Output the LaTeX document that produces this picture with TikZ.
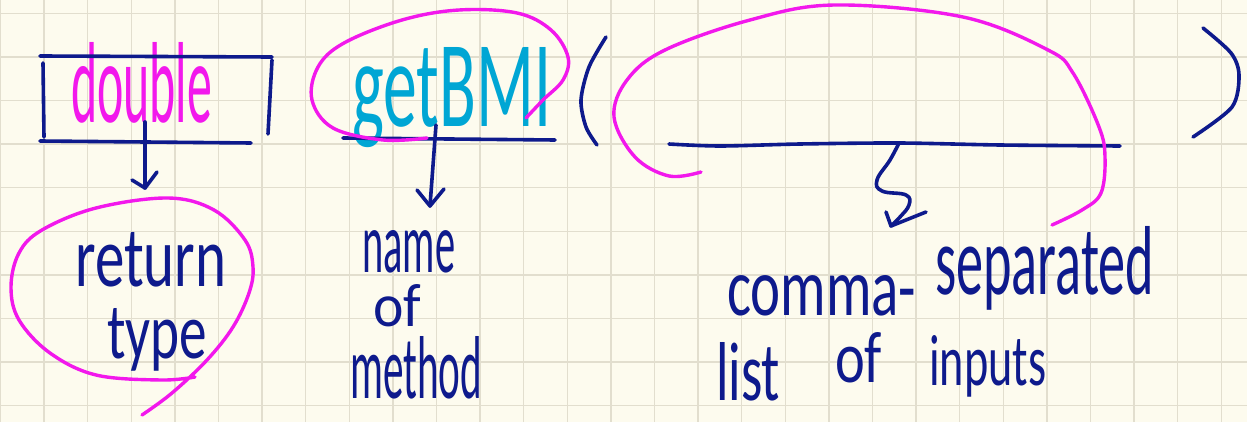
\documentclass[tikz,border=0pt]{standalone}
\usepackage{fontspec}
\setmainfont{Carlito}
\usepackage{graphicx}
\usetikzlibrary{calc}
\definecolor{paper}{RGB}{253,251,238}
\definecolor{gridc}{RGB}{226,222,206}
\definecolor{navy}{RGB}{14,26,140}
\definecolor{pinkink}{RGB}{242,24,236}
\definecolor{cyanink}{RGB}{0,166,212}
\tikzset{
  ink/.style={draw=navy, line width=3.6pt, line cap=round, line join=round},
  pinkpen/.style={draw=pinkink, line width=3.4pt, line cap=round, line join=round},
  word/.style={inner sep=0pt, anchor=base west, text=navy},
}
% #1 width, #2 height above baseline, #3 text
\newcommand{\hw}[3]{\resizebox{#1}{#2}{#3}}
\begin{document}
\begin{tikzpicture}[x=1pt,y=-1pt]
\useasboundingbox (0,0) rectangle (1247,422);
\fill[paper] (0,0) rectangle (1247,422);
% squared paper
\foreach \k in {0,...,28} \draw[gridc, line width=1.3pt] (0.5+43.6*\k,0) -- (0.5+43.6*\k,422);
\foreach \k in {0,...,9} \draw[gridc, line width=1.3pt] (0,13.3+43.6*\k) -- (1247,13.3+43.6*\k);

% ---------- return type ----------
\node[word, text=pinkink] (dbl) at (71,123) {\hw{141pt}{80pt}{double}};
\draw[ink] (40,56) -- (272,57);
\draw[ink] (43,63) -- (44,137);
\draw[ink] (272,60) -- (268,134);
\draw[ink] (40,141) -- (251,143);
\coordinate (dblStart) at (145,122);
\coordinate (dblTip) at (145,188);
\draw[ink] (dblStart) -- (dblTip);
\draw[ink] ($(dblTip)+(-13,-8)$) -- (dblTip) -- ++(12,-16);

\node[word] (ret) at (75,286) {\hw{151pt}{54pt}{return}};
\node[word] (typ) at (107,358) {\hw{100pt}{50pt}{type}};
\draw[pinkpen] plot[smooth, tension=0.6] coordinates {(195,377) (161,380) (96,375) (50,353) (19,320) (11,287) (19,253) (42,230) (96,208) (168,198) (214,210) (245,240) (253,267) (249,293) (233,327) (207,360) (172,393) (142,415)};

% ---------- method name ----------
\node[word, text=cyanink] (name) at (352,127) {\hw{199pt}{79pt}{getBMI}};
\draw[ink] (343,138) -- (555,140);
\coordinate (nmStart) at (436,125);
\coordinate (nmTip) at (430,206);
\draw[ink] (nmStart) -- (nmTip);
\draw[ink] ($(nmTip)+(-13,-16)$) -- (nmTip) -- ++(14,-17);
\draw[pinkpen] plot[smooth, tension=0.6] coordinates {(427,138) (383,140) (333,128) (312,100) (318,67) (344,43) (402,20) (459,10) (517,13) (551,30) (568,57) (563,80) (543,100) (526,118)};

\node[word] (nm1) at (362,272) {\hw{93pt}{42pt}{name}};
\node[word] (nm2) at (373,326) {\hw{48pt}{42pt}{of}};
\node[word] (nm3) at (350,398) {\hw{132pt}{62pt}{method}};

% ---------- parameter list ----------
\draw[ink] plot[smooth] coordinates {(606,37) (589,67) (581,100) (586,127) (597,145)};
\draw[ink] plot[smooth] coordinates {(1203,28) (1231,53) (1239,75) (1232,107) (1193,137)};
\draw[ink] plot[smooth] coordinates {(669,144) (720,146) (800,144) (899,143) (1000,145) (1120,146)};
\coordinate (parStart) at (899,143);
\coordinate (parTip) at (891,226);
\draw[ink] plot[smooth, tension=0.7] coordinates {(parStart) (890,160) (877,180) (882,191) (906,195) (909,205) (900,217) (parTip)};
\draw[ink] ($(parTip)+(-5,-14)$) -- (parTip) -- ++(35,-14);
\draw[pinkpen] plot[smooth, tension=0.6] coordinates {(701,172) (669,176) (635,157) (614,117) (627,80) (665,50) (750,20) (835,5) (963,17) (1048,50) (1073,73) (1099,127) (1105,157) (1101,193) (1082,210) (1052,225)};

\node[word] (cm) at (727,315) {\hw{189pt}{40pt}{comma-}};
\node[word] (sep) at (935,294) {\hw{219pt}{68pt}{separated}};
\node[word] (ls) at (716,400) {\hw{64pt}{58pt}{list}};
\node[word] (of2) at (835,382) {\hw{47pt}{50pt}{of}};
\node[word] (inp) at (929,385) {\hw{117pt}{50pt}{inputs}};
\end{tikzpicture}
\end{document}
